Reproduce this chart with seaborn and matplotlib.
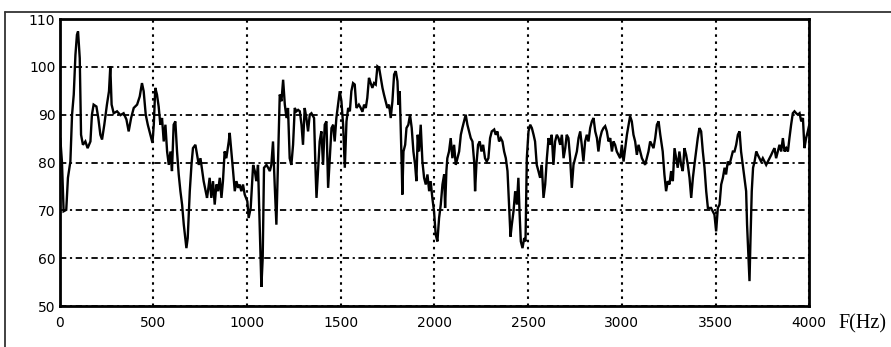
import matplotlib
matplotlib.use("Agg")
import matplotlib.pyplot as plt
import seaborn as sns
import numpy as np
import pandas as pd
from matplotlib import font_manager
from matplotlib.lines import Line2D

# ---- data (frequency in Hz, level in dB) ----
freq_a = [4, 13, 22, 36, 45, 58, 67, 76, 85, 93, 99, 108, 115, 125, 138, 150, 165, 173, 182, 197,
          207, 218, 227, 239, 253, 264, 271, 278, 289, 307, 325, 342, 357, 369, 382, 396, 414, 428, 440, 449,
          460, 471, 485, 496, 503, 511, 520, 529, 538, 547, 556, 565, 574, 583, 592, 600, 609, 618, 627, 636,
          645, 654, 663, 677, 684, 695, 704, 712, 725, 734, 743, 752, 769, 787]
level_a = [85.1, 80.2, 69.8, 70.1, 76.8, 80.2, 90.0, 94.2, 102.5, 106.7, 107.4, 101.8, 85.8, 83.7, 84.4, 83.0, 84.4, 90.0, 92.1, 91.7,
           89.3, 85.8, 84.8, 87.9, 92.1, 94.9, 100.1, 92.1, 90.3, 90.7, 89.9, 90.3, 89.0, 86.5, 89.3, 91.4, 92.1, 93.8, 96.6, 94.9,
           90.0, 87.9, 85.8, 84.1, 87.9, 95.6, 94.2, 91.7, 87.9, 89.3, 84.4, 87.9, 82.3, 79.5, 82.3, 78.2, 87.9, 88.6, 82.3, 77.5,
           74.0, 71.2, 67.0, 62.1, 64.2, 74.0, 79.5, 83.0, 83.7, 81.6, 79.5, 80.9, 76.1, 72.6]

freq_b = [792, 801, 810, 819, 828, 837, 846, 855, 864, 872, 881, 890, 903, 908, 917, 926, 935, 944, 953, 961,
          970, 979, 988, 1002, 1009, 1020, 1033, 1042, 1050, 1059, 1068, 1077, 1084, 1091, 1104, 1113, 1122, 1130, 1139, 1148,
          1157, 1166, 1175, 1184, 1193, 1202, 1211, 1219, 1228, 1237, 1246, 1255, 1264, 1273, 1282, 1291, 1299, 1308, 1317, 1326,
          1335, 1344, 1358, 1365, 1371, 1380, 1388, 1397, 1406, 1415, 1424, 1433, 1442, 1451, 1460, 1468, 1477, 1486, 1495, 1504,
          1513, 1522, 1531, 1540, 1549, 1557, 1566, 1575, 1584, 1597]
level_b = [74.0, 76.8, 72.6, 76.1, 71.2, 75.4, 74.0, 76.8, 72.6, 76.1, 82.3, 80.9, 84.4, 86.2, 82.3, 78.2, 74.0, 76.1, 74.7, 75.4,
           74.0, 75.4, 73.3, 71.9, 68.4, 70.5, 79.5, 78.2, 76.1, 79.5, 67.0, 54.0, 60.0, 78.9, 79.5, 78.9, 78.2, 79.5, 84.4, 75.4,
           67.0, 80.9, 94.2, 92.8, 97.3, 92.1, 89.3, 91.4, 80.9, 79.5, 83.7, 91.4, 90.7, 91.0, 90.7, 87.9, 83.7, 91.4, 89.3, 86.5,
           90.0, 90.3, 89.3, 79.5, 72.6, 78.9, 84.4, 86.5, 79.5, 87.9, 88.6, 74.7, 80.9, 87.2, 87.9, 84.4, 89.3, 92.1, 94.9, 92.8,
           87.9, 78.9, 88.6, 91.4, 90.7, 94.9, 96.6, 96.3, 91.4, 92.1]

freq_c = [1607, 1616, 1625, 1634, 1642, 1651, 1660, 1669, 1678, 1687, 1696, 1705, 1714, 1723, 1731, 1740, 1749, 1758, 1767, 1776,
          1785, 1794, 1803, 1808, 1815, 1820, 1826, 1829, 1835, 1844, 1851, 1861, 1870, 1879, 1888, 1897, 1904, 1911, 1918, 1927,
          1936, 1945, 1954, 1963, 1972, 1980, 1989, 1998, 2007, 2016, 2025, 2034, 2043, 2052, 2057, 2064, 2069, 2078, 2087, 2096,
          2105, 2114, 2123, 2132, 2141, 2149, 2158, 2167, 2176, 2185, 2194, 2203, 2212, 2217, 2224, 2233, 2242, 2251, 2260, 2270,
          2279, 2288, 2297, 2306, 2319, 2327, 2336, 2345, 2354, 2363, 2372, 2381, 2390, 2399, 2406]
level_c = [91.4, 90.6, 92.1, 91.4, 93.5, 97.7, 96.6, 95.6, 96.6, 96.3, 100.1, 99.8, 97.7, 95.6, 94.2, 92.8, 91.4, 92.1, 89.3, 92.8,
           98.4, 99.1, 97.0, 92.1, 94.9, 87.9, 78.9, 73.3, 82.3, 83.7, 87.2, 87.9, 90.0, 87.2, 82.3, 79.5, 76.1, 85.8, 82.3, 87.9,
           80.2, 76.8, 75.4, 77.5, 74.0, 76.1, 72.6, 69.8, 64.9, 63.5, 68.4, 71.2, 75.4, 77.5, 70.5, 78.2, 80.9, 82.3, 85.1, 80.9,
           83.7, 79.5, 80.9, 82.3, 85.8, 87.2, 88.6, 90.0, 87.9, 86.5, 85.1, 84.4, 80.2, 74.0, 79.5, 83.7, 84.4, 82.3, 83.7, 80.9,
           80.2, 80.9, 85.1, 86.5, 86.9, 85.8, 86.5, 84.4, 85.1, 84.4, 82.3, 80.9, 78.2, 70.5, 64.5]

freq_d = [2413, 2422, 2431, 2440, 2448, 2454, 2461, 2470, 2479, 2486, 2493, 2502, 2511, 2520, 2529, 2537, 2546, 2555, 2564, 2573,
          2582, 2591, 2600, 2609, 2617, 2626, 2635, 2644, 2653, 2662, 2671, 2680, 2689, 2698, 2706, 2715, 2724, 2733, 2742, 2751,
          2760, 2769, 2778, 2786, 2795, 2804, 2813, 2822, 2831, 2840, 2849, 2858, 2867, 2875, 2884, 2893, 2902, 2911, 2920, 2929,
          2938, 2947, 2955, 2964, 2973, 2982, 2991, 3000, 3009, 3018, 3027, 3036, 3044, 3053, 3062, 3071, 3080, 3089, 3098, 3107,
          3116, 3124, 3133, 3142, 3151, 3160, 3169, 3178, 3187, 3196, 3205]
level_d = [67.0, 69.8, 74.0, 71.2, 76.8, 69.8, 63.5, 62.1, 64.2, 63.5, 80.9, 86.5, 87.9, 87.2, 85.8, 84.4, 79.5, 78.2, 76.8, 79.5,
           72.6, 75.4, 80.9, 85.1, 83.7, 85.8, 79.5, 84.4, 85.8, 85.1, 83.7, 85.8, 80.9, 83.0, 85.8, 85.1, 80.9, 74.7, 79.5, 80.9,
           82.3, 85.1, 86.5, 83.7, 80.2, 84.4, 85.8, 84.4, 87.2, 88.6, 89.3, 86.5, 85.1, 82.3, 85.1, 86.5, 87.2, 87.6, 86.5, 84.4,
           85.1, 82.3, 84.4, 83.7, 82.3, 81.6, 80.9, 83.7, 80.2, 83.0, 85.8, 87.9, 89.7, 88.6, 85.8, 84.4, 81.6, 83.7, 82.3, 80.9,
           80.2, 79.5, 80.9, 82.3, 84.4, 83.7, 83.0, 85.1, 87.9, 88.6, 85.8]

freq_e = [3218, 3227, 3236, 3245, 3254, 3263, 3272, 3281, 3290, 3298, 3307, 3316, 3325, 3334, 3343, 3352, 3361, 3370, 3379, 3387,
          3396, 3405, 3414, 3423, 3432, 3441, 3450, 3459, 3476, 3494, 3503, 3512, 3521, 3530, 3539, 3548, 3556, 3565, 3574, 3583,
          3592, 3601, 3610, 3619, 3628, 3636, 3645, 3654, 3663, 3668, 3676, 3681, 3686, 3693, 3700, 3708, 3717, 3725, 3734, 3743,
          3752, 3761, 3770, 3779, 3788, 3797, 3805, 3814, 3823, 3832, 3841, 3850, 3859, 3868, 3877, 3886, 3894, 3903, 3912, 3921,
          3930, 3939, 3948, 3957, 3966, 3974, 3983, 3992, 4000]
level_e = [82.3, 77.5, 74.0, 76.1, 75.4, 78.2, 76.1, 83.0, 80.9, 78.9, 82.3, 79.5, 78.2, 83.0, 81.6, 79.5, 76.8, 72.6, 76.8, 79.5,
           82.3, 85.1, 87.2, 86.5, 82.3, 78.9, 74.0, 70.5, 70.5, 69.1, 65.6, 70.5, 71.2, 75.4, 76.8, 78.9, 77.5, 80.2, 79.5, 80.9,
           82.3, 82.3, 83.7, 85.8, 86.5, 82.3, 79.5, 76.8, 74.0, 67.0, 60.0, 55.2, 63.5, 74.0, 78.9, 80.2, 82.3, 81.6, 80.9, 80.2,
           80.9, 80.2, 79.5, 80.2, 80.9, 81.6, 82.3, 83.0, 80.9, 82.3, 83.7, 82.3, 85.1, 82.3, 83.0, 82.3, 85.1, 87.9, 90.3, 90.7,
           90.3, 90.0, 90.3, 88.6, 89.3, 83.0, 85.1, 86.5, 87.9]

x_ticks = [0, 500, 1000, 1500, 2000, 2500, 3000, 3500, 4000]
y_ticks = [50, 60, 70, 80, 90, 100, 110]
x_label = "F(Hz)"

# ---- style ----
sns.set_style("white")
names = {f.name for f in font_manager.fontManager.ttflist}
tick_font = "Liberation Sans Narrow" if "Liberation Sans Narrow" in names else "DejaVu Sans"
plt.rcParams["font.family"] = [tick_font, "DejaVu Sans"]

W, H = 891, 347
fig = plt.figure(figsize=(W / 100, H / 100), dpi=100)
ax_l, ax_r, ax_t, ax_b = 59.5, 809.3, 19.0, 306.0
ax = fig.add_axes([ax_l / W, 1 - ax_b / H, (ax_r - ax_l) / W, (ax_b - ax_t) / H])

df = pd.DataFrame({
    "freq": np.concatenate([freq_a, freq_b, freq_c, freq_d, freq_e]),
    "level": np.concatenate([level_a, level_b, level_c, level_d, level_e]),
})
sns.lineplot(data=df, x="freq", y="level", color="black", linewidth=1.7,
             estimator=None, sort=False, ax=ax, zorder=3)
for ln in ax.get_lines():
    ln.set_solid_joinstyle("miter")

ax.set_xlim(0, 4000)
ax.set_ylim(50, 110)
ax.set_xticks(x_ticks)
ax.set_yticks(y_ticks)
ax.set_xticklabels([str(v) for v in x_ticks])
ax.set_yticklabels([str(v) for v in y_ticks])
ax.set_xlabel("")
ax.set_ylabel("")

ax.set_axisbelow(True)
ax.xaxis.grid(True, color="black", linestyle=(0, (1.2, 2.2)), linewidth=1.5)
ax.yaxis.grid(True, color="black", linestyle=(0, (3.5, 2, 1.2, 2)), linewidth=1.3)

ax.tick_params(axis="both", length=0, labelsize=10, colors="black")
ax.tick_params(axis="x", pad=7)
ax.tick_params(axis="y", pad=3)
for sp in ax.spines.values():
    sp.set_visible(True)
    sp.set_color("black")
    sp.set_linewidth(2.0)

fig.text(838 / W, 1 - 324 / H, x_label, family=["Liberation Serif", "DejaVu Serif"],
         fontsize=14.5, va="center", ha="left", color="black")

# outer frame of the original figure (left and top edges visible)
fx, fy = 5 / W, 1 - 12 / H
fig.add_artist(Line2D([fx, fx], [fy, 0], transform=fig.transFigure, color="#333333", linewidth=1.3))
fig.add_artist(Line2D([fx, 1], [fy, fy], transform=fig.transFigure, color="#333333", linewidth=1.3))

fig.savefig("out.png", dpi=100)
